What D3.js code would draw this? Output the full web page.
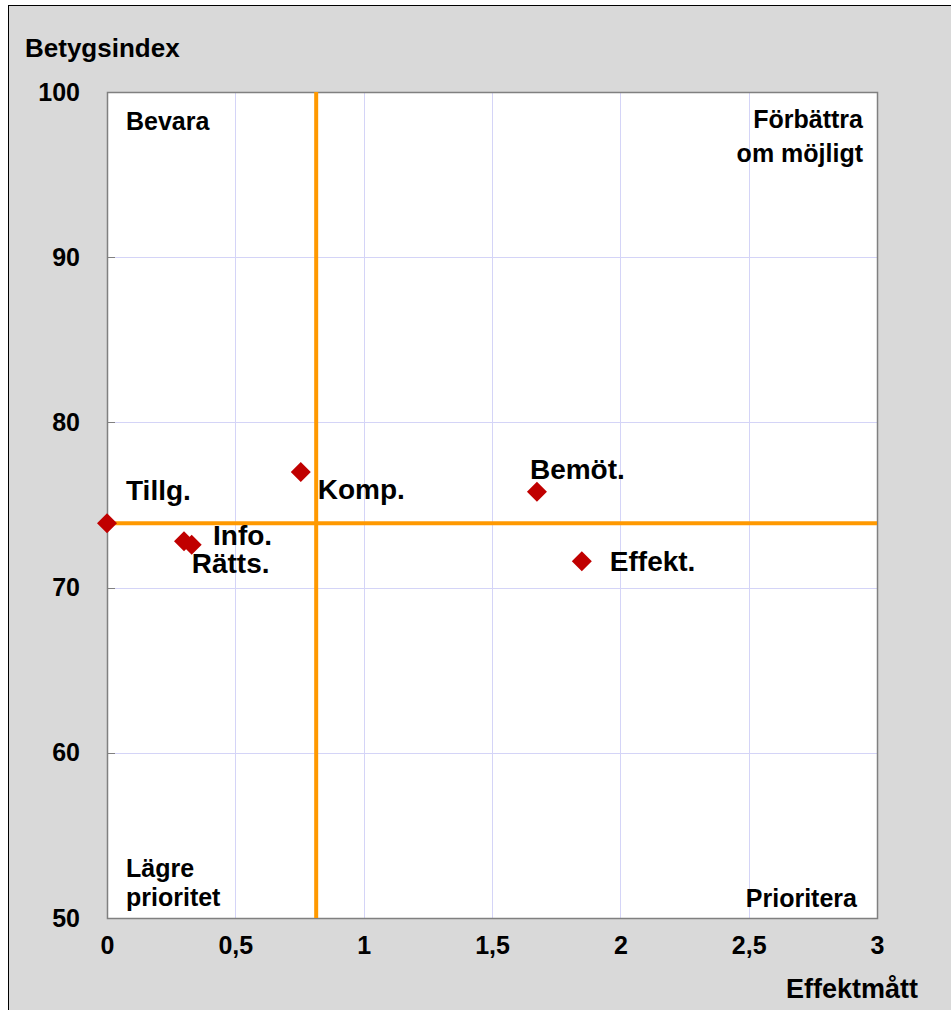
<!DOCTYPE html>
<html>
<head>
<meta charset="utf-8">
<script src="https://cdn.jsdelivr.net/npm/d3@7"></script>
<style>
  body { margin: 0; background: #fff; }
  text { font-family: "Liberation Sans", Arial, sans-serif; font-weight: bold; fill: #000; }
</style>
</head>
<body>
<div id="chart"></div>
<script>
// data
var names = ["Tillg.", "Info.", "Rätts.", "Komp.", "Bemöt.", "Effekt."];
var effekt = [0, 0.30, 0.33, 0.755, 1.675, 1.85];
var betyg = [73.9, 72.8, 72.6, 77.0, 75.8, 71.6];
var meanEffekt = 0.815;
var meanBetyg = 73.9;
var xTicks = [0, 0.5, 1, 1.5, 2, 2.5, 3];
var yTicks = [50, 60, 70, 80, 90, 100];

var svgWidth = 951, svgHeight = 1010;
var margin = { top: 92, right: 74, bottom: 92, left: 107 };
var width = svgWidth - margin.left - margin.right;
var height = svgHeight - margin.top - margin.bottom;

var svg = d3.select("#chart").append("svg")
  .attr("width", svgWidth)
  .attr("height", svgHeight);

// outer grey frame
svg.append("rect")
  .attr("x", 8.5).attr("y", 5.5)
  .attr("width", svgWidth).attr("height", svgHeight)
  .attr("fill", "#d9d9d9")
  .attr("stroke", "#000").attr("stroke-width", 1);

var g = svg.append("g")
  .attr("transform", `translate(${margin.left}, ${margin.top})`);

var x = d3.scaleLinear().domain([0, 3]).range([0, width]);
var y = d3.scaleLinear().domain([50, 100]).range([height, 0]);

g.append("rect")
  .attr("width", width).attr("height", height)
  .attr("fill", "#fff");

// grid
g.selectAll(".vgrid").data(xTicks.slice(1, -1)).enter().append("line")
  .attr("x1", d => Math.round(x(d)) + 0.5).attr("x2", d => Math.round(x(d)) + 0.5)
  .attr("y1", 0).attr("y2", height)
  .attr("stroke", "#d4d4f7").attr("stroke-width", 1);
g.selectAll(".hgrid").data(yTicks.slice(1, -1)).enter().append("line")
  .attr("y1", d => Math.round(y(d)) + 0.5).attr("y2", d => Math.round(y(d)) + 0.5)
  .attr("x1", 0).attr("x2", width)
  .attr("stroke", "#d4d4f7").attr("stroke-width", 1);

// small inside ticks on y axis
g.selectAll(".ytick").data(yTicks.slice(1, -1)).enter().append("line")
  .attr("y1", d => Math.round(y(d)) + 0.5).attr("y2", d => Math.round(y(d)) + 0.5)
  .attr("x1", 0).attr("x2", 8)
  .attr("stroke", "#808080").attr("stroke-width", 1);

// plot border
g.append("rect")
  .attr("x", 0.5).attr("y", 0.5)
  .attr("width", width).attr("height", height)
  .attr("fill", "none")
  .attr("stroke", "#808080").attr("stroke-width", 1.5);

// axes (labels only)
var fmt = d => String(d).replace(".", ",");
var xAxis = g.append("g")
  .attr("transform", `translate(0, ${height + 15})`)
  .call(d3.axisBottom(x).tickValues(xTicks).tickFormat(fmt).tickSize(0));
var yAxis = g.append("g")
  .attr("transform", "translate(-24, 0)")
  .call(d3.axisLeft(y).tickValues(yTicks).tickSize(0));
[xAxis, yAxis].forEach(a => {
  a.select(".domain").remove();
  a.selectAll("text")
    .style("font-size", "25px")
    .style("font-family", "Liberation Sans, Arial, sans-serif")
    .style("font-weight", "bold")
    .attr("fill", "#000");
});

// mean lines
g.append("line")
  .attr("x1", 0).attr("x2", width)
  .attr("y1", y(meanBetyg)).attr("y2", y(meanBetyg))
  .attr("stroke", "#ff9900").attr("stroke-width", 4);
g.append("line")
  .attr("x1", x(meanEffekt)).attr("x2", x(meanEffekt))
  .attr("y1", 0).attr("y2", height)
  .attr("stroke", "#ff9900").attr("stroke-width", 4);

// points
var pts = names.map((n, i) => ({ name: n, x: effekt[i], y: betyg[i] }));
g.selectAll(".pt").data(pts).enter().append("path")
  .attr("d", d3.symbol().type(d3.symbolSquare).size(200))
  .attr("transform", d => `translate(${x(d.x)}, ${y(d.y)}) rotate(45)`)
  .attr("fill", "#c00000");

// label offsets
var off = {
  "Tillg.": [19, -23],
  "Info.": [29, 4],
  "Rätts.": [0, 28],
  "Komp.": [17, 27],
  "Bemöt.": [-7, -13],
  "Effekt.": [28, 10]
};
g.selectAll(".lbl").data(pts).enter().append("text")
  .attr("x", d => x(d.x) + off[d.name][0])
  .attr("y", d => y(d.y) + off[d.name][1])
  .style("font-size", "28px")
  .text(d => d.name);

// quadrant labels
var quad = g.append("g").style("font-size", "25px");
quad.append("text").attr("x", 19).attr("y", 38).text("Bevara");
quad.append("text").attr("x", width - 14).attr("y", 36).attr("text-anchor", "end").text("Förbättra");
quad.append("text").attr("x", width - 14).attr("y", 70).attr("text-anchor", "end").text("om möjligt");
quad.append("text").attr("x", 19).attr("y", 785).text("Lägre");
quad.append("text").attr("x", 19).attr("y", 814).text("prioritet");
quad.append("text").attr("x", width - 20).attr("y", 815).attr("text-anchor", "end").text("Prioritera");

// axis titles
svg.append("text").attr("x", 25).attr("y", 57).style("font-size", "26px").text("Betygsindex");
svg.append("text").attr("x", 918).attr("y", 998).attr("text-anchor", "end").style("font-size", "27px").text("Effektmått");
</script>
</body>
</html>
